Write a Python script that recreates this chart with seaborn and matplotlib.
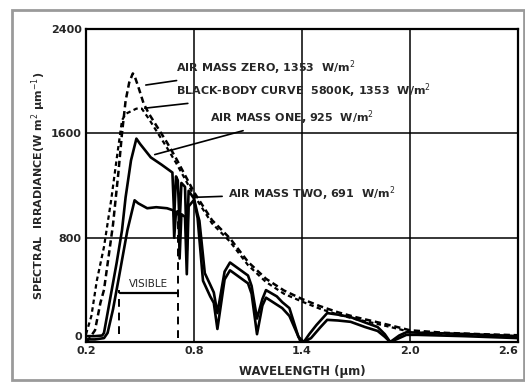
import numpy as np
import pandas as pd
import matplotlib
matplotlib.use("Agg")
import matplotlib.pyplot as plt
import seaborn as sns
from matplotlib.patches import Rectangle

# Air mass zero (extraterrestrial)
wl_am0 = [0.20, 0.22, 0.25, 0.28, 0.30, 0.33, 0.35, 0.38, 0.40, 0.42, 0.44, 0.46, 0.47, 0.49,
          0.52, 0.55, 0.60, 0.65, 0.70, 0.75, 0.80, 0.90, 1.00, 1.10, 1.20, 1.30, 1.40, 1.50,
          1.60, 1.70, 1.80, 1.90, 2.00, 2.20, 2.40, 2.60]
am0 = [0, 30, 90, 300, 400, 700, 900, 1300, 1600, 1850, 1990, 2060, 2040, 1960,
       1830, 1750, 1640, 1530, 1410, 1280, 1150, 935, 795, 615, 485, 395, 330, 275,
       228, 190, 158, 125, 90, 70, 60, 52]

# Black-body curve 5800K
wl_bb = [0.20, 0.23, 0.26, 0.30, 0.34, 0.37, 0.40, 0.42, 0.45, 0.48, 0.51, 0.55, 0.60, 0.65,
         0.70, 0.75, 0.80, 0.90, 1.00, 1.10, 1.20, 1.30, 1.40, 1.50, 1.60, 1.70, 1.80, 1.90,
         2.00, 2.20, 2.40, 2.60]
bb = [60, 200, 470, 730, 1090, 1400, 1700, 1750, 1770, 1790, 1790, 1710, 1600, 1490,
      1375, 1250, 1125, 910, 770, 590, 460, 370, 310, 255, 210, 175, 145, 112,
      78, 60, 52, 45]

# Air mass one
wl_am1 = [0.20, 0.25, 0.29, 0.30, 0.33, 0.37, 0.40, 0.42, 0.45, 0.48, 0.50, 0.56, 0.62, 0.68,
          0.69, 0.70, 0.71, 0.72, 0.73, 0.75, 0.76, 0.77, 0.79, 0.80, 0.82, 0.83, 0.86, 0.89,
          0.91, 0.93, 0.97, 1.00, 1.05, 1.10, 1.12, 1.15, 1.18, 1.20, 1.26, 1.29, 1.33, 1.38,
          1.41, 1.44, 1.48, 1.54, 1.60, 1.67, 1.75, 1.82, 1.86, 1.89, 1.94, 1.98, 2.04, 2.30, 2.60]
am1 = [45, 45, 50, 70, 300, 605, 857, 1110, 1393, 1560, 1520, 1416, 1360, 1300,
       960, 1270, 1240, 900, 1220, 1190, 700, 1160, 1120, 1100, 980, 930, 528, 440,
       380, 222, 540, 610, 560, 510, 430, 180, 330, 398, 350, 306, 260, 40,
       0, 60, 130, 222, 210, 191, 150, 115, 60, 0, 50, 75, 72, 62, 45]

# Air mass two
wl_am2 = [0.20, 0.25, 0.30, 0.32, 0.35, 0.38, 0.43, 0.47, 0.49, 0.54, 0.59, 0.65, 0.685, 0.69,
          0.70, 0.715, 0.72, 0.73, 0.75, 0.76, 0.77, 0.80, 0.82, 0.85, 0.89, 0.91, 0.93, 0.97,
          1.00, 1.05, 1.10, 1.12, 1.15, 1.18, 1.20, 1.29, 1.33, 1.39, 1.41, 1.45, 1.50, 1.54,
          1.60, 1.67, 1.75, 1.82, 1.86, 1.89, 1.94, 1.98, 2.04, 2.30, 2.60]
am2 = [20, 20, 30, 70, 250, 475, 857, 1087, 1064, 1026, 1034, 1026, 1010, 800,
       1000, 990, 640, 980, 960, 520, 1040, 1090, 950, 470, 350, 300, 100, 480,
       550, 500, 450, 370, 60, 280, 340, 260, 200, 10, 0, 30, 110, 170,
       165, 155, 115, 85, 40, 0, 30, 55, 55, 45, 30]

x_ticks = [0.2, 0.8, 1.4, 2.0, 2.6]
y_ticks = [0, 800, 1600, 2400]
x_labels = ["0.2", "0.8", "1.4", "2.0", "2.6"]
y_labels = ["0", "800", "1600", "2400"]

sns.set_style("white")
plt.rcParams["font.family"] = ["DejaVu Sans"]

fig = plt.figure(figsize=(5.25, 3.83), dpi=100)
ax = fig.add_axes([0.1638, 0.107, 0.8229, 0.817])

# outer frame of the scanned figure
fig.patches.append(Rectangle((0.023, 0.008), 0.975, 0.966, transform=fig.transFigure,
                             fill=False, edgecolor="#9a9a9a", linewidth=2))

sns.lineplot(x=wl_am0, y=am0, ax=ax, color="black", linewidth=1.8,
             linestyle=(0, (2.5, 1.5)), sort=False, estimator=None)
sns.lineplot(x=wl_bb, y=bb, ax=ax, color="black", linewidth=1.6,
             linestyle=(0, (2.0, 1.5)), sort=False, estimator=None)
sns.lineplot(x=wl_am1, y=am1, ax=ax, color="black", linewidth=1.9,
             sort=False, estimator=None)
sns.lineplot(x=wl_am2, y=am2, ax=ax, color="black", linewidth=1.9,
             sort=False, estimator=None)

# visible band
ax.plot([0.385, 0.385], [60, 400], color="black", linewidth=1.4, linestyle=(0, (4, 3)))
ax.plot([0.71, 0.71], [30, 1010], color="black", linewidth=1.4, linestyle=(0, (4, 3)))
ax.plot([0.39, 0.71], [375, 375], color="black", linewidth=1.6)
ax.text(0.545, 410, "VISIBLE", fontsize=7.5, ha="center", va="bottom")

# curve labels
lbl = dict(fontsize=8, fontweight="bold", va="center", ha="left")
ax.annotate("AIR MASS ZERO, 1353  W/m$^2$", xy=(0.517, 1968), xytext=(0.70, 2105),
            arrowprops=dict(arrowstyle="-", color="black", lw=1.2), **lbl)
ax.annotate("BLACK-BODY CURVE  5800K, 1353  W/m$^2$", xy=(0.511, 1791), xytext=(0.70, 1929),
            arrowprops=dict(arrowstyle="-", color="black", lw=1.2), **lbl)
ax.annotate("AIR MASS ONE, 925  W/m$^2$", xy=(0.567, 1432), xytext=(0.89, 1723),
            arrowprops=dict(arrowstyle="-", color="black", lw=1.2), **lbl)
ax.annotate("AIR MASS TWO, 691  W/m$^2$", xy=(0.806, 1110), xytext=(0.99, 1141),
            arrowprops=dict(arrowstyle="-", color="black", lw=1.2), **lbl)

ax.set_xlim(0.2, 2.6)
ax.set_ylim(0, 2400)
ax.set_xticks(x_ticks)
ax.set_xticklabels(x_labels)
ax.set_yticks(y_ticks)
ax.set_yticklabels(y_labels)
ax.tick_params(length=0, labelsize=8, pad=3)
for t in ax.get_xticklabels() + ax.get_yticklabels():
    t.set_fontweight("bold")
ax.get_xticklabels()[-1].set_horizontalalignment("right")
ax.get_yticklabels()[0].set_verticalalignment("bottom")
ax.grid(True, color="black", linewidth=1.1)
for s in ax.spines.values():
    s.set_color("black")
    s.set_linewidth(1.6)

ax.set_xlabel("WAVELENGTH (\u03bcm)", fontsize=8.5, fontweight="bold", labelpad=6)
ax.set_ylabel("SPECTRAL  IRRADIANCE(W m$^2$ \u03bcm$^{-1}$)", fontsize=8,
              fontweight="bold", labelpad=2)

fig.savefig("out.png", dpi=100)
